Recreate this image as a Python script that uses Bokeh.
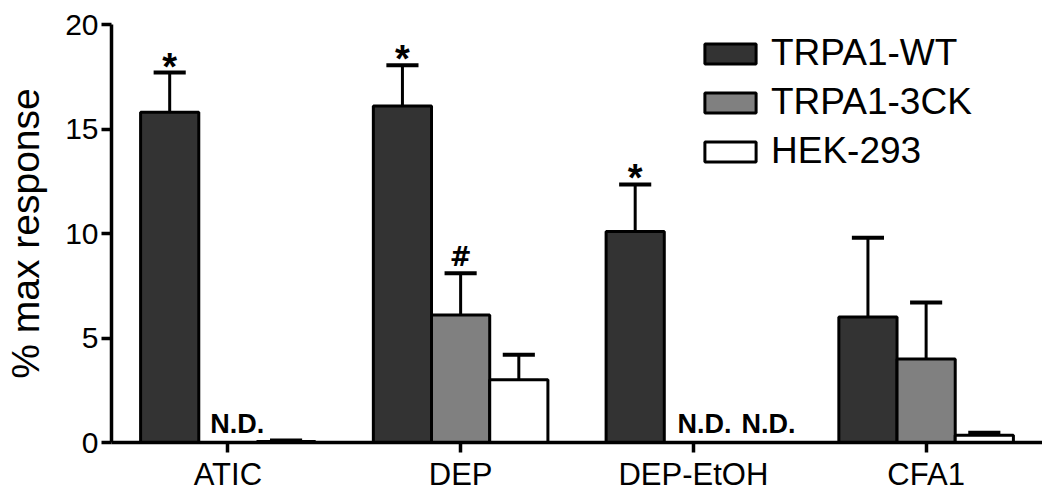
import math
from bokeh.plotting import figure
from bokeh.models import (ColumnDataSource, FactorRange, Range1d, Legend, LegendItem,
                          FixedTicker)
from bokeh.transform import dodge
from bokeh.core.properties import value
from bokeh.embed import file_html
from bokeh.resources import INLINE

NaN = float("nan")

categories = ["ATIC", "DEP", "DEP-EtOH", "CFA1"]
series_names = ["TRPA1-WT", "TRPA1-3CK", "HEK-293"]
wt_vals = [15.8, 16.1, 10.1, 6.0]
wt_err = [1.9, 1.95, 2.25, 3.8]
ck_vals = [NaN, 6.1, NaN, 4.0]
ck_err = [NaN, 2.0, NaN, 2.7]
hek_vals = [0.05, 3.0, NaN, 0.35]
hek_err = [0.05, 1.2, NaN, 0.12]
y_ticks = [0, 5, 10, 15, 20]

# significance marks: (category, series, symbol)
star_marks = [("ATIC", "wt", "*"), ("DEP", "wt", "*"), ("DEP-EtOH", "wt", "*")]
hash_marks = [("DEP", "ck", "#")]
# not-detected labels: (category, series, small horizontal shift)
nd_marks = [("ATIC", "ck", 0.04), ("DEP-EtOH", "ck", 0.048), ("DEP-EtOH", "hek", 0.073)]

FONT = "Liberation Sans"
colors = {"wt": "#333333", "ck": "#808080", "hek": "#ffffff"}
offsets = {"wt": -0.25, "ck": 0.0, "hek": 0.25}
vals = {"wt": wt_vals, "ck": ck_vals, "hek": hek_vals}
errs = {"wt": wt_err, "ck": ck_err, "hek": hek_err}

p = figure(x_range=FactorRange(factors=categories, range_padding=0),
           y_range=Range1d(0, 20),
           width=1042, height=498, output_backend="svg", toolbar_location=None,
           min_border_left=111, min_border_right=0, min_border_top=24,
           min_border_bottom=56)
p.x_range.range_padding = 0
p.outline_line_color = None
p.grid.grid_line_color = None
p.background_fill_color = "white"

renderers = {}
cap_half = 0.069
for key in ["wt", "ck", "hek"]:
    v = vals[key]
    e = errs[key]
    cats = [c for c, x in zip(categories, v) if not math.isnan(x)]
    tops = [x for x in v if not math.isnan(x)]
    ers = [ee for ee, x in zip(e, v) if not math.isnan(x)]
    src = ColumnDataSource(dict(cat=cats, top=tops, up=[t + ee for t, ee in zip(tops, ers)]))
    off = offsets[key]
    p.segment(x0=dodge("cat", off, range=p.x_range), y0="top",
              x1=dodge("cat", off, range=p.x_range), y1="up", source=src,
              line_color="black", line_width=3)
    p.segment(x0=dodge("cat", off - cap_half, range=p.x_range), y0="up",
              x1=dodge("cat", off + cap_half, range=p.x_range), y1="up", source=src,
              line_color="black", line_width=4)
    r = p.vbar(x=dodge("cat", off, range=p.x_range), top="top", bottom=0, width=0.25,
               source=src, fill_color=colors[key], line_color="black", line_width=3)
    renderers[key] = r


def mark_source(marks):
    xs, ys, ts = [], [], []
    for c, key, sym in marks:
        i = categories.index(c)
        xs.append(c)
        ys.append(vals[key][i] + errs[key][i])
        ts.append(sym)
    return xs, ys, ts


sx, sy, st = mark_source(star_marks)
ssrc = ColumnDataSource(dict(cat=sx, y=sy, t=st))
p.text(x=dodge("cat", offsets["wt"], range=p.x_range), y="y", text="t", source=ssrc,
       text_font=value(FONT), text_font_style="bold", text_font_size="38px",
       text_align="center", text_baseline="alphabetic", y_offset=-6, text_color="black")

hx, hy, ht = mark_source(hash_marks)
hsrc = ColumnDataSource(dict(cat=hx, y=hy, t=ht))
p.text(x=dodge("cat", offsets["ck"], range=p.x_range), y="y", text="t", source=hsrc,
       text_font=value("DejaVu Sans"), text_font_style="bold", text_font_size="26px",
       text_align="center", text_baseline="alphabetic", y_offset=-16, text_color="black")

for c, key, shift in nd_marks:
    src = ColumnDataSource(dict(cat=[c], y=[0], t=["N.D."]))
    p.text(x=dodge("cat", offsets[key] + shift, range=p.x_range), y="y", text="t", source=src,
           text_font=value(FONT), text_font_style="bold", text_font_size="27px",
           text_align="center", text_baseline="alphabetic", y_offset=-19, text_color="black")

legend = Legend(items=[LegendItem(label=n, renderers=[renderers[k]])
                       for n, k in zip(series_names, ["wt", "ck", "hek"])],
                location=(587, 270))
legend.glyph_width = 64
legend.glyph_height = 25
legend.label_standoff = 9
legend.label_text_font = FONT
legend.label_text_font_size = "37px"
legend.label_text_color = "black"
legend.spacing = 7
legend.padding = 0
legend.margin = 0
legend.border_line_color = None
legend.background_fill_alpha = 0
p.add_layout(legend, "center")

for ax in [p.xaxis[0], p.yaxis[0]]:
    ax.axis_line_width = 3.5
    ax.axis_line_color = "black"
    ax.major_tick_line_width = 3.5
    ax.major_tick_line_color = "black"
    ax.major_tick_in = 0
    ax.major_tick_out = 10
    ax.minor_tick_line_color = None
    ax.major_label_text_color = "black"
    ax.major_label_text_font = FONT

p.xaxis.major_label_text_font_size = "31px"
p.xaxis.major_label_standoff = 4
p.yaxis.ticker = FixedTicker(ticks=y_ticks)
p.yaxis.major_label_text_font_size = "30px"
p.yaxis.major_label_standoff = 3
p.yaxis.axis_label = "% max response"
p.yaxis.axis_label_text_font = FONT
p.yaxis.axis_label_text_font_size = "39px"
p.yaxis.axis_label_text_font_style = "normal"
p.yaxis.axis_label_text_color = "black"
p.yaxis.axis_label_standoff = 15

open("out.html", "w").write(file_html(p, INLINE))
